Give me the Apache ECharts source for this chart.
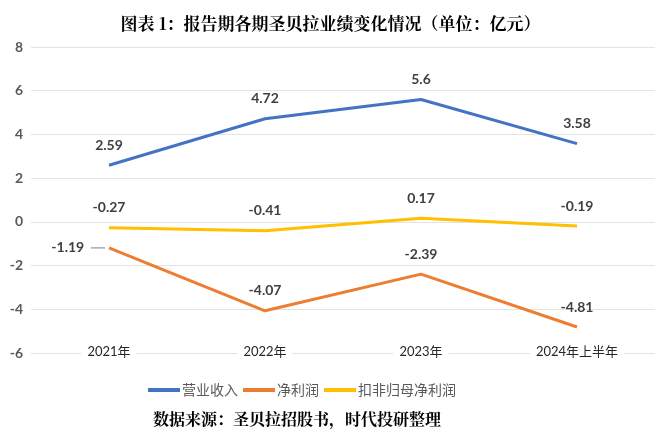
<!DOCTYPE html>
<html><head><meta charset="utf-8">
<script src="https://cdn.jsdelivr.net/npm/echarts@6/dist/echarts.min.js"></script>
<style>html,body{margin:0;padding:0;background:#fff}#c{width:661px;height:440px}</style>
</head><body><div id="c"></div>
<script>
const categories = ['2021年','2022年','2023年','2024年上半年'];
const revenue = [2.59, 4.72, 5.6, 3.58];
const netProfit = [-1.19, -4.07, -2.39, -4.81];
const adjNetProfit = [-0.27, -0.41, 0.17, -0.19];
const yTicks = [-6,-4,-2,0,2,4,6,8];
const seriesNames = ['营业收入','净利润','扣非归母净利润'];
const colors = ['#4472C4','#ED7D31','#FFC000'];

const numFont = 'Lato, "Open Sans", sans-serif';
const chart = echarts.init(document.getElementById('c'));
const labelBase = {show:true, position:'top', distance:13, color:'#404040', fontWeight:'bold', fontSize:14, fontFamily:numFont};
function mk(name, data, color, special){
  return {
    name, type:'line', data: data.map((v,i)=>{
      if(special && special[i]) return {value:v, label: special[i]};
      return v;
    }),
    symbol:'circle', symbolSize:0.01, showSymbol:true,
    lineStyle:{width:3, color}, itemStyle:{color},
    label: labelBase, labelLayout:{hideOverlap:false}
  };
}
chart.setOption({
  animation:false,
  title:[{text:'图表 1：报告期各期圣贝拉业绩变化情况（单位：亿元）', left:'center', top:10,
    textStyle:{fontSize:17, fontWeight:'bold', color:'#000', fontFamily:'"Noto Serif CJK SC","Noto Sans CJK SC", serif'}},
    {text:'数据来源：圣贝拉招股书，时代投研整理', left:148, top:406,
    textStyle:{fontSize:16, fontWeight:'bold', color:'#000', fontFamily:'"Noto Serif CJK SC","Noto Sans CJK SC", serif'}}],
  legend:{left:143, top:378, icon:'rect', itemWidth:32, itemHeight:4, itemGap:5,
    textStyle:{color:'#595959', fontSize:14, fontFamily:'"Noto Sans CJK SC", sans-serif', padding:[0,0,0,-3]},
    data: seriesNames},
  grid:{left:31, right:6, top:47, bottom:87},
  xAxis:{type:'category', data:categories, boundaryGap:true,
    axisLine:{show:false}, axisTick:{show:false},
    axisLabel:{margin:-8, color:'#262626', fontSize:13, fontFamily:'Lato, "Noto Sans CJK SC", sans-serif', backgroundColor:'#fff', padding:[0,6]}},
  yAxis:{type:'value', min:yTicks[0], max:yTicks[yTicks.length-1], interval:2,
    axisLine:{show:false}, axisTick:{show:false},
    splitLine:{lineStyle:{color:'#e3e3e3', width:1}},
    axisLabel:{margin:8, color:'#595959', fontWeight:'bold', fontSize:14, fontFamily:numFont}},
  series:[
    mk(seriesNames[0], revenue, colors[0]),
    mk(seriesNames[1], netProfit, colors[1], {0:{position:'left', distance:4, formatter:'{v|{c}}  {l|}',
      rich:{v:{color:'#404040', fontWeight:'bold', fontSize:14, fontFamily:numFont}, l:{width:14, height:1.5, backgroundColor:'#aaaaaa'}}}}),
    mk(seriesNames[2], adjNetProfit, colors[2])
  ]
});
</script></body></html>
